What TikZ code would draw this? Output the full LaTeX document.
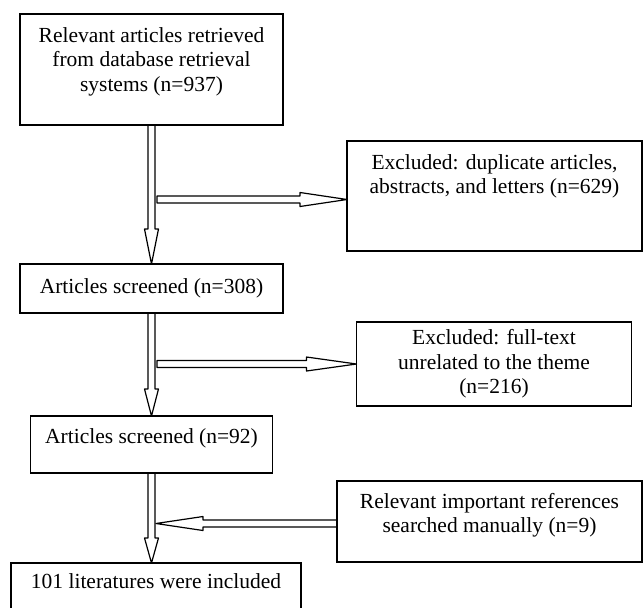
\documentclass[tikz,border=0pt]{standalone}
\usepackage{fontspec}
\setmainfont{Liberation Serif}
\usetikzlibrary{positioning,calc}

\begin{document}
\begin{tikzpicture}[
  box/.style={draw, line width=0.6pt, inner sep=2pt, outer sep=0pt, align=center, font=\fontsize{10.75}{12.25}\selectfont},
  farr/.style={line width=0.6pt, line join=round, to path={
    ($(\tikztostart)!1.75pt!90:(\tikztotarget)$)
    -- ($($(\tikztotarget)!#1!(\tikztostart)$)!1.75pt!90:(\tikztotarget)$)
    -- ($($(\tikztotarget)!#1!(\tikztostart)$)!3.5pt!90:(\tikztotarget)$)
    -- (\tikztotarget)
    -- ($($(\tikztotarget)!#1!(\tikztostart)$)!3.5pt!-90:(\tikztotarget)$)
    -- ($($(\tikztotarget)!#1!(\tikztostart)$)!1.75pt!-90:(\tikztotarget)$)
    -- ($(\tikztostart)!1.75pt!-90:(\tikztotarget)$)
    -- cycle}},
  node distance=50pt
]

\useasboundingbox (-75.75pt,-268.75pt) rectangle (245.75pt,34.75pt);

\node[box, minimum width=131.5pt, minimum height=55.5pt, text depth=10pt] (n937) {Relevant articles retrieved\\from database retrieval\\systems (n=937)};

\node[box, minimum width=131.5pt, minimum height=24.5pt, below=69.5pt of n937] (n308) {Articles screened (n=308)};

\node[box, minimum width=121pt, minimum height=28.5pt, text depth=8.5pt, below=51.5pt of n308] (n92) {Articles screened (n=92)};

\node[box, minimum width=145pt, minimum height=30pt, text depth=12pt, below=45pt of n92, xshift=2.25pt] (n101) {101 literatures were included};

\node[box, minimum width=147.5pt, minimum height=55pt, text depth=22pt, above right=6.5pt and 32pt of n308.north east] (ex1) {Excluded: duplicate articles,\\abstracts, and letters (n=629)};

\node[box, minimum width=137.5pt, minimum height=42pt, above right=5pt and 42pt of n92.north east] (ex2) {Excluded: full-text\\unrelated to the theme\\(n=216)};

\node[box, minimum width=152.5pt, minimum height=40.5pt, text depth=8.5pt, above right=0.5pt and 18pt of n101.north east] (refs) {Relevant important references\\searched manually (n=9)};

\coordinate (j1) at ($(n937.south |- ex1.west)+(2.75pt,-1.75pt)$);
\coordinate (j2) at ($(n308.south |- ex2.west)+(2.75pt,0)$);
\coordinate (j3) at ($(n92.south |- refs.west)+(2.25pt,-1pt)$);

\draw[farr=17.5pt] (n937.south) to (n308.north);
\draw[farr=13.5pt] (n308.south) to (n92.north);
\draw[farr=12.5pt] (n92.south) to (n92.south |- n101.north);
\draw[farr=23.5pt] (j1) to (j1 -| ex1.west);
\draw[farr=25pt] (j2) to (j2 -| ex2.west);
\draw[farr=23.5pt] (j3 -| refs.west) to (j3);

\end{tikzpicture}
\end{document}
